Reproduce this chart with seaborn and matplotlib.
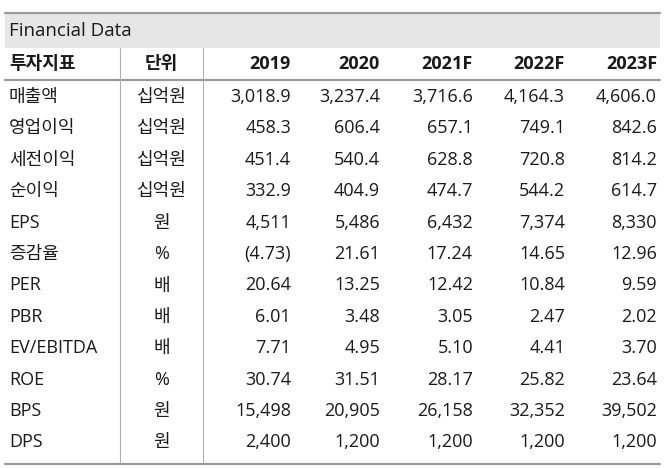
import matplotlib
matplotlib.use('Agg')
import matplotlib.pyplot as plt
import seaborn as sns

# table content
indicators = ['매출액', '영업이익', '세전이익', '순이익', 'EPS', '증감율', 'PER', 'PBR',
              'EV/EBITDA', 'ROE', 'BPS', 'DPS']
units = ['십억원', '십억원', '십억원', '십억원', '원', '%', '배', '배', '배', '%', '원', '원']
years = ['2019', '2020', '2021F', '2022F', '2023F']
v2019 = ['3,018.9', '458.3', '451.4', '332.9', '4,511', '(4.73)', '20.64', '6.01', '7.71', '30.74', '15,498', '2,400']
v2020 = ['3,237.4', '606.4', '540.4', '404.9', '5,486', '21.61', '13.25', '3.48', '4.95', '31.51', '20,905', '1,200']
v2021 = ['3,716.6', '657.1', '628.8', '474.7', '6,432', '17.24', '12.42', '3.05', '5.10', '28.17', '26,158', '1,200']
v2022 = ['4,164.3', '749.1', '720.8', '544.2', '7,374', '14.65', '10.84', '2.47', '4.41', '25.82', '32,352', '1,200']
v2023 = ['4,606.0', '842.6', '814.2', '614.7', '8,330', '12.96', '9.59', '2.02', '3.70', '23.64', '39,502', '1,200']
values = [v2019, v2020, v2021, v2022, v2023]

sns.set_theme(style='white')
plt.rcParams['font.family'] = ['Open Sans', 'Noto Sans CJK KR', 'DejaVu Sans']

W, H = 670, 468
fig = plt.figure(figsize=(W / 100, H / 100), dpi=100)
ax = fig.add_axes([0, 0, 1, 1])
ax.set_xlim(0, W)
ax.set_ylim(H, 0)
ax.axis('off')

txt = '#1a1a1a'
line = '#9a9a9a'
left, right = 5, 660
top, band_bot, head_bot, bottom = 13, 48, 80, 464
row0, row_h = 97, 31.4
col_right = [291, 380, 473, 565, 657]
sep_x = [120, 203]


def is_kr(s):
    return any('\uac00' <= c <= '\ud7a3' for c in s)


def put(x, y, s, ha, bold=False):
    size = 13.0 if is_kr(s) else 13.0
    ax.text(x, y, s, ha=ha, va='center', fontsize=size, color=txt,
            fontweight='bold' if bold else 'normal')


# title band
ax.fill_between([left, right], top, band_bot, color='#e6e6e6', lw=0)
ax.plot([left, right], [top, top], color=line, lw=1.6)
ax.text(9, (top + band_bot) / 2 + 1, 'Financial Data', ha='left', va='center',
        fontsize=13.5, color=txt)

# header
hy = (band_bot + head_bot) / 2
put(9, hy, '투자지표', 'left', bold=True)
put(sum(sep_x) / 2, hy, '단위', 'center', bold=True)
for x, yr in zip(col_right, years):
    put(x, hy, yr, 'right', bold=True)
ax.plot([left, right], [head_bot, head_bot], color=line, lw=1.6)

# vertical separators
for x in sep_x:
    ax.plot([x, x], [band_bot, bottom], color='#b0b0b0', lw=0.8)

# body
for i, (name, unit) in enumerate(zip(indicators, units)):
    y = row0 + i * row_h
    put(9, y, name, 'left')
    put(sum(sep_x) / 2, y, unit, 'center')
    for x, col in zip(col_right, values):
        put(x, y, col[i], 'right')

ax.plot([left, right], [bottom, bottom], color=line, lw=1.6)

fig.savefig('out.png', dpi=100)
